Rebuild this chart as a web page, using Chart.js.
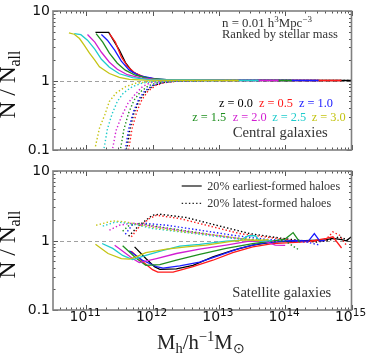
<!DOCTYPE html>
<html><head><meta charset="utf-8">
<script src="https://cdn.jsdelivr.net/npm/chart.js@4.4.0/dist/chart.umd.min.js"></script>
<style>
html,body{margin:0;padding:0;background:#fff}
#wrap{position:relative;width:374px;height:359px}
canvas{position:absolute;left:0}
</style></head><body>
<div id="wrap">
<canvas id="cenChart" width="374" height="160" style="top:0"></canvas>
<canvas id="satChart" width="374" height="199" style="top:160px"></canvas>
</div>
<script>
// redshifts of the samples
let redshifts=["0.0","0.5","1.0","1.5","2.0","2.5","3.0"];

// points are [log10(Mh), N/Nall]
// central galaxies, 20% earliest-formed haloes
let cenEarly_z00=[[11.14,4.91],[11.34,4.91],[11.41,3.80],[11.50,2.73],[11.60,1.76],[11.70,1.33],[11.85,1.13],[12.06,1.04],[12.33,1.01],[15.0,1.0]];
let cenEarly_z05=[[11.35,4.74],[11.44,3.56],[11.53,2.19],[11.62,1.61],[11.73,1.29],[11.88,1.12],[12.10,1.03],[12.4,1.01],[14.85,1.0]];
let cenEarly_z10=[[11.23,4.59],[11.32,3.80],[11.43,2.73],[11.53,1.90],[11.65,1.41],[11.80,1.17],[12.03,1.06],[12.26,1.02],[14.5,1.0]];
let cenEarly_z15=[[11.15,4.74],[11.25,3.56],[11.35,2.47],[11.47,1.77],[11.59,1.41],[11.74,1.19],[11.95,1.07],[12.26,1.02],[14.1,1.0]];
let cenEarly_z20=[[11.02,4.59],[11.13,3.56],[11.23,2.55],[11.35,1.83],[11.47,1.45],[11.62,1.21],[11.83,1.08],[12.10,1.02],[13.9,1.0]];
let cenEarly_z25=[[10.82,4.74],[10.92,4.56],[11.02,3.80],[11.13,2.82],[11.23,2.02],[11.35,1.55],[11.50,1.25],[11.70,1.10],[11.95,1.03],[13.6,1.0]];
let cenEarly_z30=[[10.74,4.84],[10.82,4.63],[10.90,4.02],[10.97,3.22],[11.05,2.47],[11.13,1.96],[11.20,1.57],[11.35,1.26],[11.50,1.11],[11.65,1.04],[11.88,1.01],[13.3,1.0]];

// central galaxies, 20% latest-formed haloes
let cenLate_z00=[[11.61,0.10],[11.66,0.20],[11.72,0.34],[11.80,0.52],[11.90,0.70],[12.02,0.85],[12.15,0.93],[12.37,0.98],[12.8,0.995],[15.0,1.0]];
let cenLate_z05=[[11.64,0.10],[11.69,0.20],[11.76,0.35],[11.84,0.53],[11.93,0.70],[12.05,0.85],[12.18,0.93],[12.40,0.98],[12.8,0.995],[14.85,1.0]];
let cenLate_z10=[[11.59,0.10],[11.64,0.20],[11.71,0.35],[11.79,0.53],[11.88,0.70],[12.00,0.85],[12.13,0.93],[12.35,0.98],[12.75,0.995],[14.5,1.0]];
let cenLate_z15=[[11.52,0.106],[11.57,0.20],[11.64,0.34],[11.72,0.52],[11.82,0.69],[11.94,0.84],[12.07,0.93],[12.30,0.98],[12.7,0.995],[14.1,1.0]];
let cenLate_z20=[[11.40,0.106],[11.45,0.19],[11.53,0.30],[11.63,0.47],[11.73,0.62],[11.85,0.82],[11.97,0.93],[12.20,0.98],[12.6,0.995],[13.9,1.0]];
let cenLate_z25=[[11.27,0.106],[11.32,0.20],[11.39,0.33],[11.47,0.50],[11.56,0.66],[11.70,0.82],[11.85,0.92],[12.10,0.98],[12.5,0.99],[13.6,1.0]];
let cenLate_z30=[[11.14,0.113],[11.20,0.206],[11.28,0.32],[11.35,0.50],[11.45,0.66],[11.60,0.82],[11.75,0.915],[12.03,0.977],[12.41,0.99],[13.3,1.0]];

// satellite galaxies, 20% earliest-formed haloes
let satEarly_z00=[[11.73,0.81],[11.90,0.55],[12.03,0.42],[12.11,0.385],[12.36,0.39],[12.61,0.44],[12.91,0.58],[13.21,0.72],[13.51,0.86],[13.81,0.95],[14.1,0.98],[14.4,1.0],[14.6,1.02],[14.72,1.07],[14.85,1.03],[14.92,0.99],[15.0,1.13]];
let satEarly_z05=[[11.68,0.70],[11.85,0.50],[12.00,0.38],[12.08,0.35],[12.31,0.35],[12.61,0.42],[12.91,0.52],[13.21,0.67],[13.51,0.81],[13.81,0.90],[14.22,0.95],[14.45,1.0],[14.62,1.07],[14.72,1.13],[14.85,0.78]];
let satEarly_z10=[[11.65,0.71],[11.85,0.52],[12.06,0.42],[12.16,0.40],[12.41,0.43],[12.71,0.49],[13.01,0.61],[13.31,0.77],[13.61,0.90],[13.9,0.97],[14.2,1.0],[14.35,0.98],[14.44,1.26],[14.52,0.99],[14.6,1.0]];
let satEarly_z15=[[11.55,0.84],[11.75,0.56],[11.90,0.44],[12.11,0.45],[12.36,0.52],[12.71,0.63],[13.11,0.77],[13.51,0.90],[13.8,0.98],[14.0,1.05],[14.12,1.30],[14.22,0.95]];
let satEarly_z20=[[11.43,0.855],[11.70,0.55],[11.80,0.48],[12.06,0.55],[12.36,0.65],[12.71,0.75],[13.11,0.86],[13.46,0.98],[13.7,0.97],[13.85,0.86],[14.0,0.85]];
let satEarly_z25=[[11.24,0.905],[11.40,0.77],[11.55,0.61],[11.70,0.53],[11.90,0.61],[12.16,0.72],[12.41,0.83],[12.71,0.88],[13.11,0.98],[13.31,1.0],[13.45,1.17],[13.55,1.17],[13.62,0.97],[13.8,1.0]];
let satEarly_z30=[[11.14,0.885],[11.33,0.65],[11.53,0.55],[11.65,0.54],[11.75,0.58],[11.90,0.67],[12.21,0.75],[12.51,0.81],[12.81,0.86],[13.21,0.98],[13.4,1.02],[13.6,1.0],[13.75,1.03]];

// satellite galaxies, 20% latest-formed haloes
let satLate_z00=[[11.64,1.15],[11.80,1.66],[12.00,2.31],[12.11,2.39],[12.51,2.14],[12.96,1.66],[13.46,1.26],[13.96,1.07],[14.47,0.95],[14.65,1.0],[14.82,1.13],[14.97,1.0]];
let satLate_z05=[[11.68,1.13],[11.80,1.57],[11.95,2.06],[12.06,2.31],[12.41,2.07],[12.81,1.66],[13.31,1.26],[13.81,1.09],[14.32,0.95],[14.6,1.0],[14.72,1.33],[14.82,1.19],[14.92,0.86]];
let satLate_z10=[[11.59,1.23],[11.70,1.70],[11.90,1.76],[12.21,1.66],[12.71,1.41],[13.21,1.19],[13.71,1.04],[14.0,1.0],[14.32,0.95],[14.52,0.86]];
let satLate_z15=[[11.55,1.36],[11.65,1.66],[11.80,1.76],[12.11,1.57],[12.61,1.33],[13.21,1.09],[13.71,1.0],[14.0,0.98],[14.22,0.72]];
let satLate_z20=[[11.35,1.41],[11.50,1.66],[11.70,1.78],[12.06,1.57],[12.56,1.33],[13.11,1.13],[13.61,0.98],[13.9,0.96]];
let satLate_z25=[[11.25,1.61],[11.45,1.85],[11.65,1.76],[12.00,1.49],[12.51,1.30],[13.01,1.13],[13.51,1.0],[13.7,1.0]];
let satLate_z30=[[11.15,1.66],[11.40,1.91],[11.60,1.85],[11.95,1.57],[12.46,1.33],[12.96,1.19],[13.46,1.03],[13.65,1.02]];

// axes
let logMassMin=10.5, logMassMax=15;
let massTicks=[11,12,13,14,15];
let ratioTicks=[0.1,1,10];
let ratioLabels=["0.1","1","10"];

let couleurs=["#000000","#ff1a1a","#1a1aff","#1f8f1f","#d21fd2","#1fcccc","#c4c414"];
let serif="'Liberation Serif', serif";
let sans="'DejaVu Sans', sans-serif";

function toXY(pts){ return pts.map(p=>({x:Math.pow(10,p[0]),y:p[1]})); }

// rich text : parts {t, s (relative size), dy}
function richText(ctx,parts,family,size,x,y,align,targetW){
  let w=0;
  parts.forEach(p=>{ctx.font=(size*(p.s||1))+"px "+family; w+=ctx.measureText(p.t).width;});
  if(targetW){ size=size*targetW/w; w=targetW; }
  let cx= align==="center" ? x-w/2 : (align==="right" ? x-w : x);
  ctx.textAlign="left"; ctx.textBaseline="alphabetic";
  parts.forEach(p=>{
    ctx.font=(size*(p.s||1))+"px "+family;
    ctx.fillText(p.t,cx,y+(p.dy||0)*size);
    cx+=ctx.measureText(p.t).width;
  });
}

function makeDatasets(early,late){
  let ds=[];
  for(let i=early.length-1;i>=0;i--){
    ds.push({data:toXY(early[i]),borderColor:couleurs[i],borderWidth:1.3,pointRadius:0,showLine:true,tension:0});
    ds.push({data:toXY(late[i]),borderColor:couleurs[i],borderWidth:1.4,borderDash:[1.4,2.2],pointRadius:0,showLine:true,tension:0});
  }
  return ds;
}

function cadre(panel,offY){
  return {
    id:"cadre",
    beforeDatasetsDraw(chart){
      let {ctx,chartArea:a,scales:{x,y}}=chart;
      ctx.save();
      ctx.strokeStyle="#a0a0a0"; ctx.lineWidth=1; ctx.setLineDash([4,3]);
      let py=Math.round(y.getPixelForValue(1))+0.5;
      ctx.beginPath(); ctx.moveTo(a.left,py); ctx.lineTo(a.right,py); ctx.stroke();
      ctx.restore();
    },
    afterDraw(chart){
      let {ctx,chartArea:a,scales:{x,y}}=chart;
      ctx.save();
      // ticks inside the frame
      ctx.strokeStyle="#555"; ctx.lineWidth=1;
      ctx.beginPath();
      for(let d=10;d<=15;d++){
        for(let k=1;k<=9;k++){
          let v=k*Math.pow(10,d);
          if(v<Math.pow(10,logMassMin)||v>Math.pow(10,logMassMax)) continue;
          let px=Math.round(x.getPixelForValue(v))+0.5;
          let len=k===1?5:2.5;
          ctx.moveTo(px,a.bottom); ctx.lineTo(px,a.bottom-len);
          ctx.moveTo(px,a.top); ctx.lineTo(px,a.top+len);
        }
      }
      for(let d=-1;d<=1;d++){
        for(let k=1;k<=9;k++){
          let v=k*Math.pow(10,d);
          if(v<0.1||v>10) continue;
          let py=Math.round(y.getPixelForValue(v))+0.5;
          let len=k===1?5:2.5;
          ctx.moveTo(a.left,py); ctx.lineTo(a.left+len,py);
          ctx.moveTo(a.right,py); ctx.lineTo(a.right-len,py);
        }
      }
      ctx.stroke();
      // frame
      ctx.strokeStyle="#808080"; ctx.lineWidth=1.6;
      ctx.strokeRect(a.left,a.top,a.right-a.left,a.bottom-a.top);

      // y tick labels
      ctx.fillStyle="#111"; ctx.font="14px "+sans; ctx.textAlign="right"; ctx.textBaseline="middle";
      ratioTicks.forEach((v,i)=>ctx.fillText(ratioLabels[i],50,y.getPixelForValue(v)+0.5));

      // y title
      ctx.save();
      ctx.translate(15,y.getPixelForValue(1)+4);
      ctx.rotate(-Math.PI/2);
      richText(ctx,[{t:"N / N"},{t:"all",s:0.68,dy:0.22}],serif,16,0,0,"center",68);
      ctx.restore();

      ctx.fillStyle="#333";
      if(panel==="cen"){
        richText(ctx,[{t:"n = 0.01 h"},{t:"3",s:0.7,dy:-0.4},{t:"Mpc"},{t:"\u22123",s:0.7,dy:-0.4}],serif,13,222,27,"left",90);
        richText(ctx,[{t:"Ranked by stellar mass"}],serif,13,222,38,"left",116);
        let pos=[[219,107.3],[259,107.3],[299,107.3],[192.3,120.7],[232.7,120.7],[272.3,120.7],[311.7,120.7]];
        redshifts.forEach((z,i)=>{
          ctx.fillStyle=couleurs[i];
          richText(ctx,[{t:"z = "+z}],serif,13,pos[i][0],pos[i][1],"left",34);
        });
        ctx.fillStyle="#333";
        richText(ctx,[{t:"Central galaxies"}],serif,14,232.7,137.3,"left",95);
      } else {
        // legend
        ctx.strokeStyle="#222"; ctx.lineWidth=1.3;
        ctx.beginPath(); ctx.moveTo(181.7,186-offY); ctx.lineTo(201.7,186-offY); ctx.stroke();
        ctx.setLineDash([1.4,2.2]);
        ctx.beginPath(); ctx.moveTo(181.7,203.3-offY); ctx.lineTo(201.7,203.3-offY); ctx.stroke();
        ctx.setLineDash([]);
        richText(ctx,[{t:"20% earliest-formed haloes"}],serif,12,207.3,190-offY,"left",133);
        richText(ctx,[{t:"20% latest-formed haloes"}],serif,12,207.3,206.7-offY,"left",124);
        richText(ctx,[{t:"Satellite galaxies"}],serif,14,232.3,296.7-offY,"left",99);

        // x tick labels
        ctx.fillStyle="#111";
        massTicks.forEach(m=>{
          let px=x.getPixelForValue(Math.pow(10,m));
          richText(ctx,[{t:"10"},{t:String(m),s:0.75,dy:-0.33}],sans,14,px-1,321-offY,"center");
        });
        // x title
        ctx.fillStyle="#222";
        richText(ctx,[{t:"M"},{t:"h",s:0.7,dy:0.2},{t:"/h"},{t:"\u22121",s:0.7,dy:-0.4},{t:"M"},{t:"\u2299",s:0.7,dy:0.2}],serif,15,201,349.3-offY,"center",88);
      }
      ctx.restore();
    }
  };
}

function panelChart(id,panel,early,late,padBottom,offY){
  return new Chart(document.getElementById(id),{
    type:"scatter",
    data:{datasets:makeDatasets(early,late)},
    options:{
      responsive:false,
      animation:false,
      devicePixelRatio:1,
      layout:{padding:{left:53,right:22.5,top:11,bottom:padBottom}},
      plugins:{legend:{display:false},tooltip:{enabled:false}},
      scales:{
        x:{type:"logarithmic",display:false,min:Math.pow(10,logMassMin),max:Math.pow(10,logMassMax)},
        y:{type:"logarithmic",display:false,min:0.1,max:10}
      }
    },
    plugins:[cadre(panel,offY)]
  });
}

panelChart("cenChart","cen",
  [cenEarly_z00,cenEarly_z05,cenEarly_z10,cenEarly_z15,cenEarly_z20,cenEarly_z25,cenEarly_z30],
  [cenLate_z00,cenLate_z05,cenLate_z10,cenLate_z15,cenLate_z20,cenLate_z25,cenLate_z30],10,0);
panelChart("satChart","sat",
  [satEarly_z00,satEarly_z05,satEarly_z10,satEarly_z15,satEarly_z20,satEarly_z25,satEarly_z30],
  [satLate_z00,satLate_z05,satLate_z10,satLate_z15,satLate_z20,satLate_z25,satLate_z30],49,160);
</script>
</body></html>
